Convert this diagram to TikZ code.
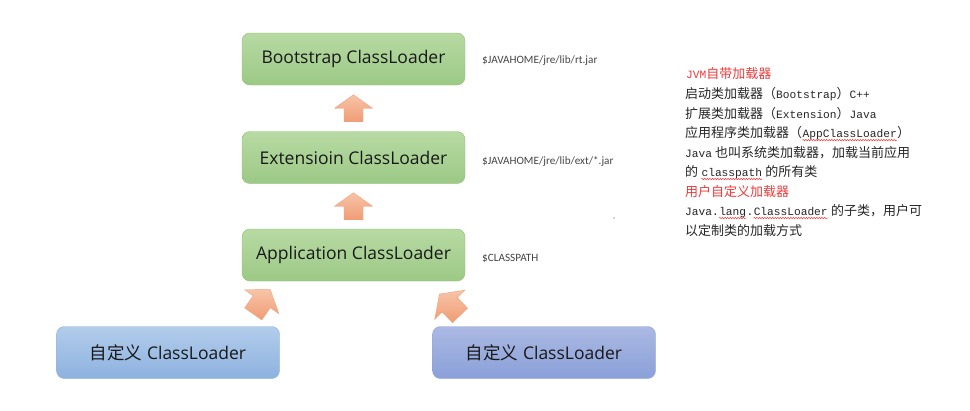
\documentclass[tikz,border=0pt]{standalone}
\usepackage{fontspec}
\usetikzlibrary{calc,decorations.pathmorphing}
\setmainfont{Open Sans}
\newfontfamily\cjk{Noto Sans CJK SC}
\newfontfamily\pathfont{Carlito}
\newfontfamily\monofont{Liberation Mono}

\definecolor{greentop}{HTML}{B7DAA3}
\definecolor{greenbot}{HTML}{9CC986}
\definecolor{greenline}{HTML}{8EC16E}
\definecolor{bluetop}{HTML}{B2CCEB}
\definecolor{bluebot}{HTML}{8DB2DF}
\definecolor{blueline}{HTML}{8FB1DC}
\definecolor{violettop}{HTML}{ABB9E3}
\definecolor{violetbot}{HTML}{8AA0D8}
\definecolor{violetline}{HTML}{8FA3D8}
\definecolor{arrowtop}{HTML}{F7C4A8}
\definecolor{arrowbot}{HTML}{F09C74}
\definecolor{arrowline}{HTML}{F1A27C}
\definecolor{notered}{HTML}{F03A3A}
\definecolor{pathgray}{HTML}{454545}

\newcommand\lat[1]{{\monofont\fontsize{11.2}{15}\selectfont #1}}
\newcommand\spellwave[1]{\tikz[baseline=(w.base)]{\node[anchor=base, inner sep=0pt] (w) {#1};
  \draw[red!80, line width=0.5pt, decorate, decoration={snake, amplitude=0.7pt, segment length=2.6pt}]
    ($(w.base west)+(0,-3)$) -- ($(w.base east)+(0,-3)$);}}

\begin{document}
\begin{tikzpicture}[x=1pt, y=1pt]

      \tikzset{loader/.style={draw, rounded corners=8pt, minimum width=223pt, minimum height=52pt, inner sep=0pt, text=black!90, font=\fontsize{17.5}{20}\selectfont},
               jvmbox/.style={loader, draw=greenline, top color=greentop, bottom color=greenbot},
               ownbox/.style={loader, draw=blueline, top color=bluetop, bottom color=bluebot},
               ownboxb/.style={loader, draw=violetline, top color=violettop, bottom color=violetbot},
               pathnote/.style={anchor=west, inner sep=0pt, text=pathgray, font=\pathfont\fontsize{11.2}{13}\selectfont},
               noteline/.style={anchor=west, inner sep=0pt, text=black!85, font=\cjk\fontsize{13}{15}\selectfont},
               blockarrow/.pic={\shadedraw[draw=arrowline, top color=arrowtop, bottom color=arrowbot]
                  (-13.5,-9.5) -- (0,-9.5) -- (0,-19) -- (13.5,0) -- (0,19) -- (0,9.5) -- (-13.5,9.5) -- cycle;}}

      \useasboundingbox (0,0) rectangle (970,-410);
      \fill[white] (0,0) rectangle (970,-410);
%% Loaders
      	\node[jvmbox] (boot) at (353.5,-59) {Bootstrap ClassLoader};
      	\node[jvmbox] (ext) at (353.5,-157.5) {Extensioin ClassLoader};
      	\node[jvmbox] (app) at (353.5,-255) {Application ClassLoader};
      	\node[ownbox] (own1) at (168,-352.5) {{\cjk 自定义} ClassLoader};
      	\node[ownboxb] (own2) at (544,-352.5) {{\cjk 自定义} ClassLoader};
%Paths
      	\node[pathnote] (bootpath) at (482,-61) {\$JAVAHOME/jre/lib/rt.jar};
      	\node[pathnote] (extpath) at (482,-161) {\$JAVAHOME/jre/lib/ext/*.jar};
      	\node[pathnote] (apppath) at (482,-258) {\$CLASSPATH};
      	\fill[pathgray] (614,-218) circle (0.7);
%Arrows
		\pic[rotate=90] at ($(boot.south)!0.5!(ext.north)$) {blockarrow};
		\pic[rotate=90] at ($(ext.south)!0.5!(app.north)$) {blockarrow};
		\pic[rotate=55, scale=1.1] at ($(own1.north east)!0.5!(app.south west)+(1,2)$) {blockarrow};
		\pic[rotate=134, scale=1.1] at ($(own2.north west)!0.5!(app.south east)+(1,-1)$) {blockarrow};
%Notes
      	\node[noteline, text=notered] (n1) at (686,-74) {\lat{JVM}自带加载器};
      	\node[noteline] (n2) at (685,-94) {启动类加载器（\lat{Bootstrap}）\lat{C++}};
      	\node[noteline] (n3) at (685,-114) {扩展类加载器（\lat{Extension}）\lat{Java}};
      	\node[noteline] (n4) at (685,-133.5) {应用程序类加载器（\spellwave{\lat{AppClassLoader}}）};
      	\node[noteline] (n5) at (685,-153) {\lat{Java} 也叫系统类加载器，加载当前应用};
      	\node[noteline] (n6) at (685,-172.5) {的 \spellwave{\lat{classpath}} 的所有类};
      	\node[noteline, text=notered] (n7) at (685,-192) {用户自定义加载器};
      	\node[noteline] (n8) at (685,-211.5) {\lat{Java.}\spellwave{\lat{lang}}\lat{.}\spellwave{\lat{ClassLoader}} 的子类，用户可};
      	\node[noteline] (n9) at (685,-231) {以定制类的加载方式};

	\end{tikzpicture}
\end{document}
